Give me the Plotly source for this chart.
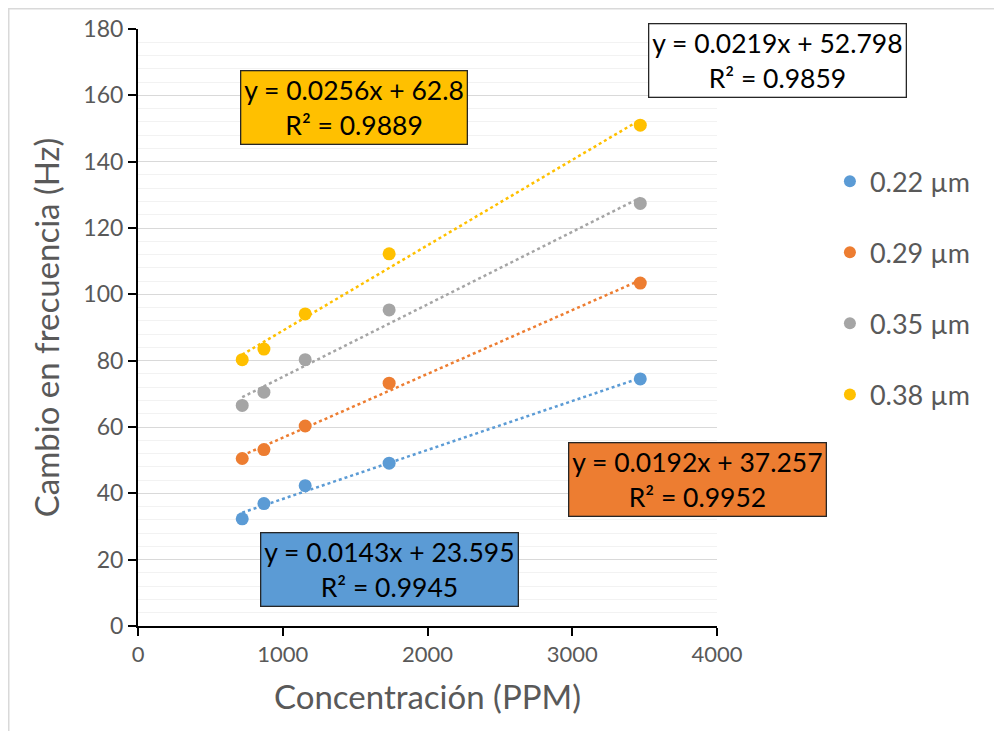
import numpy as np
import plotly.graph_objects as go

conc = [720, 870, 1155, 1735, 3470]
series_names = ["0.22 µm", "0.29 µm", "0.35 µm", "0.38 µm"]
v022 = [32.3, 36.9, 42.3, 49.1, 74.5]
v029 = [50.5, 53.2, 60.3, 73.2, 103.4]
v035 = [66.5, 70.5, 80.3, 95.3, 127.4]
v038 = [80.3, 83.5, 94.1, 112.2, 151.0]
colors = ["#5B9BD5", "#ED7D31", "#A5A5A5", "#FFC000"]

eq_texts = ["y = 0.0143x + 23.595<br>R² = 0.9945",
            "y = 0.0192x + 37.257<br>R² = 0.9952",
            "y = 0.0219x + 52.798<br>R² = 0.9859",
            "y = 0.0256x + 62.8<br>R² = 0.9889"]
eq_bg = ["#5B9BD5", "#ED7D31", "#FFFFFF", "#FFC000"]

FONT = "Lato, Carlito, 'Liberation Sans', sans-serif"
GRAY = "#595959"

L, T, PW, PH = 130, 21, 579, 597

fig = go.Figure()
all_vals = [v022, v029, v035, v038]
x = np.array(conc, dtype=float)
for i, (name, vals) in enumerate(zip(series_names, all_vals)):
    y = np.array(vals, dtype=float)
    m, b = np.polyfit(x, y, 1)
    xs = np.array([x.min(), x.max()])
    fig.add_trace(go.Scatter(x=xs, y=m * xs + b, mode="lines",
                             line=dict(color=colors[i], width=2.5, dash="dot"),
                             showlegend=False, hoverinfo="skip"))
for i, (name, vals) in enumerate(zip(series_names, all_vals)):
    fig.add_trace(go.Scatter(x=conc, y=vals, mode="markers", name=name,
                             legendgroup=name,
                             marker=dict(color=colors[i], size=13)))

# annotation positions (paper coords)
ann_pos = [(0.4344, 0.0946), (0.9663, 0.2462), (1.1045, 0.9464), (0.3722, 0.8685)]
for i in range(4):
    fig.add_annotation(x=ann_pos[i][0], y=ann_pos[i][1], xref="paper", yref="paper",
                       text=eq_texts[i], showarrow=False, align="center",
                       xanchor="center", yanchor="middle",
                       bgcolor=eq_bg[i], bordercolor="#262626", borderwidth=1.3,
                       borderpad=3,
                       font=dict(family=FONT, size=26.5, color="#000000"))

fig.add_shape(type="rect", xref="paper", yref="paper",
              x0=(0.75 - L) / PW, x1=(1010 - L) / PW,
              y0=(T + PH - 760) / PH, y1=(T + PH - 0.75) / PH,
              line=dict(color="#D9D9D9", width=1.5), fillcolor="rgba(0,0,0,0)",
              layer="below")

fig.update_layout(
    width=1002, height=731,
    margin=dict(l=L, r=1002 - L - PW, t=T, b=731 - T - PH),
    paper_bgcolor="white", plot_bgcolor="white",
    font=dict(family=FONT, color=GRAY),
    legend=dict(x=1.195, y=0.566, xanchor="left", yanchor="middle",
                font=dict(size=27, color=GRAY), tracegroupgap=33,
                traceorder="grouped", itemsizing="constant"),
    xaxis=dict(range=[0, 4000], dtick=1000, showgrid=False, automargin=False,
               showline=True, linecolor="#000000", linewidth=2,
               ticks="outside", ticklen=8, tickwidth=2, tickcolor="#000000",
               tickfont=dict(size=22, color=GRAY), zeroline=False,
               title=dict(text="Concentración (PPM)", font=dict(size=33, color=GRAY), standoff=19)),
    yaxis=dict(range=[0, 180], dtick=20, showgrid=True, gridcolor="#D9D9D9", gridwidth=1,
               automargin=False,
               showline=True, linecolor="#000000", linewidth=2,
               ticks="outside", ticklen=8, tickwidth=1.5, tickcolor="#000000",
               tickfont=dict(size=23, color=GRAY), zeroline=False,
               minor=dict(dtick=4, showgrid=True, gridcolor="#F2F2F2", gridwidth=1),
               title=dict(text="Cambio en frecuencia (Hz)", font=dict(size=33, color=GRAY), standoff=14)),
)

fig.write_html("out.html")
